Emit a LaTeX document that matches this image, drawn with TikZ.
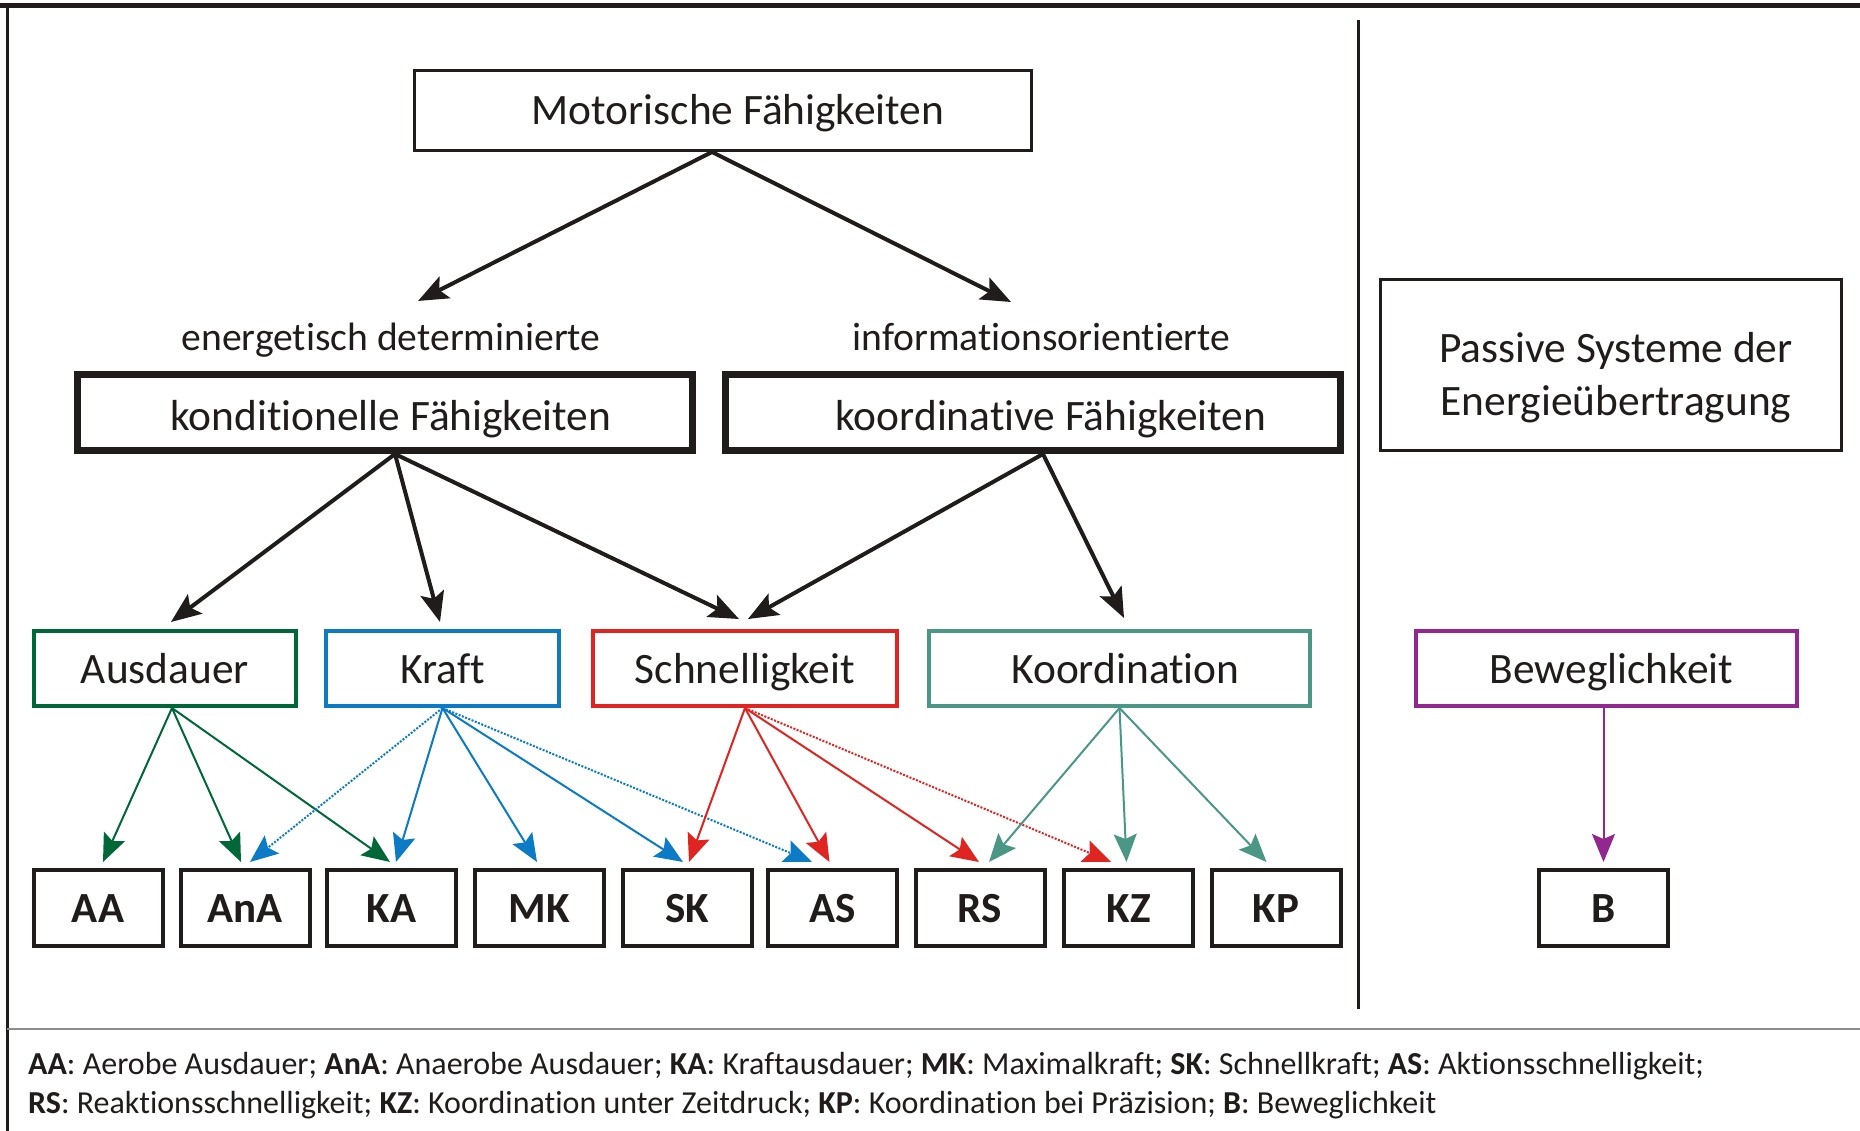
\documentclass[tikz,border=0pt]{standalone}
\usepackage{fontspec}
\setmainfont{Carlito}[Ligatures={NoCommon}]
\usetikzlibrary{arrows.meta}
\definecolor{ink}{HTML}{201C1B}
\definecolor{cgreen}{HTML}{006838}
\definecolor{cblue}{HTML}{0A7BC4}
\definecolor{cred}{HTML}{DE2521}
\definecolor{cteal}{HTML}{4A9786}
\definecolor{cpurple}{HTML}{92278F}
\begin{document}
\begin{tikzpicture}[x=1pt,y=-1pt,
  box/.style={draw=ink, rectangle, inner sep=0pt, text=ink, font=\fontsize{43.4}{53}\selectfont},
  bigbox/.style={box, line width=7pt, minimum width=615pt, minimum height=76pt, text height=35pt, text depth=0pt},
  catbox/.style={box, line width=4pt, minimum height=75pt, text height=30pt, text depth=0pt},
  leaf/.style={box, line width=4pt, minimum width=129pt, minimum height=76pt, text height=28pt, text depth=0pt, font=\fontsize{43}{52}\selectfont\bfseries},
  lab/.style={inner sep=0pt, text=ink, font=\fontsize{39.6}{48}\selectfont},
  legend/.style={inner sep=0pt, text=ink, font=\fontsize{32}{39}\selectfont},
  blk/.style={draw=ink, line width=4pt, -{Stealth[length=30pt,width=24pt,inset=6pt]}},
  carr/.style={line width=2pt, -{Stealth[length=28pt,width=23pt,inset=5pt]}},
  dotl/.style={dash pattern=on 2pt off 1.5pt}
]
\useasboundingbox (0,0) rectangle (1860,1131);
\fill[white] (0,0) rectangle (1860,1131);
% frame
\draw[ink, line width=5pt] (0,6) -- (1860,6);
\draw[ink, line width=3pt] (7,4) -- (7,1131);
\draw[black!45, line width=2pt] (7,1029) -- (1860,1029);
\draw[ink, line width=3pt] (1358,20) -- (1358,1009);

% top
\node[box, line width=3pt, minimum width=617pt, minimum height=80pt, text height=30pt, text depth=1pt] (mot) at (723,110.5) {\hspace*{30pt}Motorische Fähigkeiten};
\node[lab, anchor=base] (enlab) at (391,351) {energetisch determinierte};
\node[lab, anchor=base] (inlab) at (1041.5,351) {informationsorientierte};
\node[bigbox] (kond) at (385,412.5) {\hspace*{12pt}konditionelle Fähigkeiten};
\node[bigbox] (kord) at (1033,412.5) {\hspace*{36pt}koordinative Fähigkeiten};
\node[box, line width=3pt, minimum width=461pt, minimum height=171pt] (pass) at (1611,365) {\hspace*{10pt}\raisebox{-20pt}[0pt][0pt]{\begin{tabular}{@{}c@{}}Passive Systeme der\\Energieübertragung\end{tabular}}};

% categories
\node[catbox, draw=cgreen, minimum width=262pt] (aus) at (165,668.5) {Ausdauer};
\node[catbox, draw=cblue, minimum width=233pt] (kraft) at (442.5,668.5) {Kraft};
\node[catbox, draw=cred, minimum width=304pt] (schn) at (745,668.5) {Schnelligkeit};
\node[catbox, draw=cteal, minimum width=381pt] (koord) at (1119.5,668.5) {\hspace*{12pt}Koordination};
\node[catbox, draw=cpurple, minimum width=381pt] (bew) at (1606.5,668.5) {\hspace*{10pt}Beweglichkeit};

% leaves
\node[leaf] (AA) at (98,908) {AA};
\node[leaf] (AnA) at (245,908) {AnA};
\node[leaf] (KA) at (391.5,908) {KA};
\node[leaf] (MK) at (539.5,908) {MK};
\node[leaf] (SK) at (687,908) {SK};
\node[leaf] (AS) at (832.5,908) {AS};
\node[leaf] (RS) at (980,908) {RS};
\node[leaf] (KZ) at (1128.5,908) {KZ};
\node[leaf] (KP) at (1276,908) {KP};
\node[leaf] (B) at (1603.5,908) {B};

% black arrows
\coordinate (tl) at (418,301);
\coordinate (tr) at (1011,302);
\draw[blk] ([xshift=-11pt]mot.south) -- (tl);
\draw[blk] ([xshift=-11pt]mot.south) -- (tr);
\draw[blk] ([xshift=10pt]kond.south) -- ([xshift=6pt,yshift=7pt]aus.north);
\draw[blk] ([xshift=10pt]kond.south) -- ([xshift=-2.5pt,yshift=7pt]kraft.north);
\draw[blk] ([xshift=10pt]kond.south) -- ([xshift=-6pt,yshift=10pt]schn.north);
\draw[blk] ([xshift=10pt]kord.south) -- ([xshift=3pt,yshift=10pt]schn.north);
\draw[blk] ([xshift=10pt]kord.south) -- ([xshift=4.5pt,yshift=11pt]koord.north);

% green
\draw[carr, cgreen] ([xshift=7pt]aus.south) -- ([xshift=5pt,yshift=6pt]AA.north);
\draw[carr, cgreen] ([xshift=7pt]aus.south) -- ([xshift=-4pt,yshift=6pt]AnA.north);
\draw[carr, cgreen] ([xshift=7pt]aus.south) -- ([xshift=-1.5pt,yshift=6pt]KA.north);
% blue
\draw[carr, cblue, dotl] (kraft.south) -- ([xshift=5pt,yshift=6pt]AnA.north);
\draw[carr, cblue] (kraft.south) -- ([xshift=4.5pt,yshift=6pt]KA.north);
\draw[carr, cblue] (kraft.south) -- ([xshift=-2.5pt,yshift=6pt]MK.north);
\draw[carr, cblue] (kraft.south) -- ([xshift=-4pt,yshift=6pt]SK.north);
\draw[carr, cblue, dotl] (kraft.south) -- ([xshift=-20.5pt,yshift=6pt]AS.north);
% red
\draw[carr, cred] (schn.south) -- ([xshift=2pt,yshift=6pt]SK.north);
\draw[carr, cred] (schn.south) -- ([xshift=-3pt,yshift=6pt]AS.north);
\draw[carr, cred] (schn.south) -- ([xshift=-1pt,yshift=6pt]RS.north);
\draw[carr, cred, dotl] (schn.south) -- ([xshift=-17.5pt,yshift=6pt]KZ.north);
% teal
\draw[carr, cteal] (koord.south) -- ([xshift=9pt,yshift=6pt]RS.north);
\draw[carr, cteal] (koord.south) -- ([xshift=-2pt,yshift=6pt]KZ.north);
\draw[carr, cteal] (koord.south) -- ([xshift=-9.5pt,yshift=6pt]KP.north);
% purple
\draw[carr, cpurple] ([xshift=-3pt]bew.south) -- ([yshift=6pt]B.north);

% legend
\node[legend, anchor=base west] (leg1) at (28,1074) {\textbf{AA}: Aerobe Ausdauer; \textbf{AnA}: Anaerobe Ausdauer; \textbf{KA}: Kraftausdauer; \textbf{MK}: Maximalkraft; \textbf{SK}: Schnellkraft; \textbf{AS}: Aktionsschnelligkeit;};
\node[legend, anchor=base west] (leg2) at (28,1113) {\textbf{RS}: Reaktionsschnelligkeit; \textbf{KZ}: Koordination unter Zeitdruck; \textbf{KP}: Koordination bei Präzision; \textbf{B}: Beweglichkeit};
\end{tikzpicture}
\end{document}
